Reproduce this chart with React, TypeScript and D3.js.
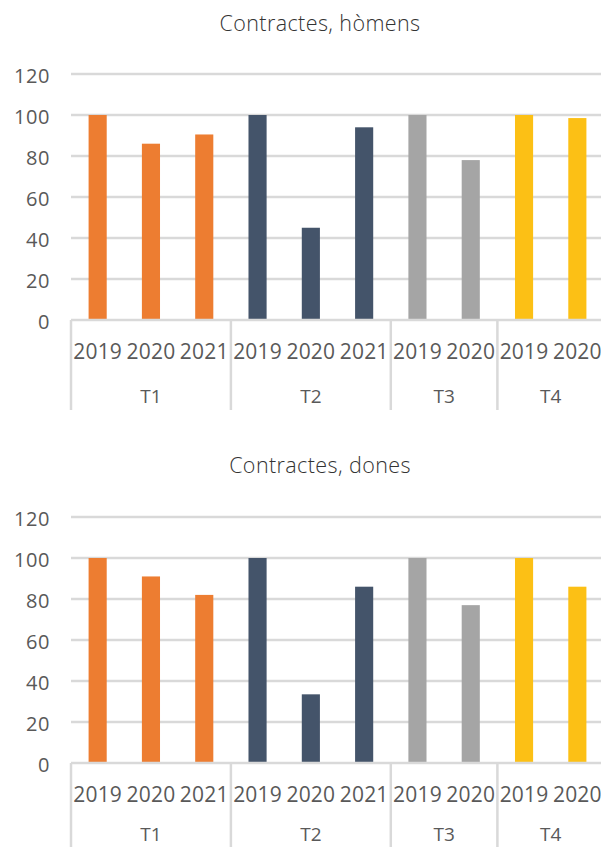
import React from "react";
import * as d3 from "d3";

const quarters = ["T1", "T2", "T3", "T4"];
const quarterOf = ["T1", "T1", "T1", "T2", "T2", "T2", "T3", "T3", "T4", "T4"];
const years = ["2019", "2020", "2021", "2019", "2020", "2021", "2019", "2020", "2019", "2020"];
const homens = [100, 86, 90.5, 100, 45, 94, 100, 78, 100, 98.5];
const dones = [100, 91, 82, 100, 33.5, 86, 100, 77, 100, 86];
const yTicks = [0, 20, 40, 60, 80, 100, 120];
const quarterColors = ["#ED7D31", "#44546A", "#A5A5A5", "#FCC015"];

const W = 601;
const H = 847;
const X0 = 71;
const X1 = 604;
const GRID = "#D9D9D9";
const TXT = "#595959";
const FONT = "'Open Sans', sans-serif";

type ChartProps = {
  title: string;
  values: number[];
  titleY: number;
  yTopPx: number;
  yZeroPx: number;
  quarterLabelOffset: number;
};

function Chart({ title, values, titleY, yTopPx, yZeroPx, quarterLabelOffset }: ChartProps) {
  const idx = values.map((_, i) => String(i));
  const x = d3.scaleBand<string>().domain(idx).range([X0, X1]).padding(0);
  const y = d3.scaleLinear().domain([0, 120]).range([yZeroPx, yTopPx]);
  const color = d3.scaleOrdinal<string, string>().domain(quarters).range(quarterColors);
  const step = x.step();
  const bw = step * 0.34;

  const bounds: number[] = [X0];
  quarters.forEach((q) => {
    const last = quarterOf.lastIndexOf(q);
    bounds.push((x(String(last)) as number) + step);
  });

  return (
    <g>
      <text x={320} y={titleY} textAnchor="middle" fontFamily={FONT} fontWeight={300} fontSize={21.5} fill="#333333" letterSpacing={0.4}>
        {title}
      </text>
      {yTicks.map((t) => (
        <g key={t}>
          {t > 0 && <line x1={X0} x2={W} y1={y(t)} y2={y(t)} stroke={GRID} strokeWidth={2.5} />}
          <text x={50} y={y(t) + 1} textAnchor="end" dominantBaseline="central" fontFamily={FONT} fontSize={20} fill={TXT} letterSpacing={0.6}>
            {t}
          </text>
        </g>
      ))}
      {values.map((v, i) => {
        const cx = (x(String(i)) as number) + step / 2;
        return (
          <rect key={i} x={cx - bw / 2} y={y(v)} width={bw} height={y(0) - y(v)} fill={color(quarterOf[i])} />
        );
      })}
      <line x1={X0} x2={W} y1={y(0)} y2={y(0)} stroke={GRID} strokeWidth={2.5} />
      {bounds.map((b, i) => (
        <line key={i} x1={b} x2={b} y1={y(0)} y2={y(0) + 90} stroke={GRID} strokeWidth={2.5} />
      ))}
      {years.map((yr, i) => {
        const cx = (x(String(i)) as number) + step / 2;
        return (
          <text key={i} x={cx} y={y(0) + 39} textAnchor="middle" fontFamily={FONT} fontSize={21} fill={TXT} letterSpacing={0.2}>
            {yr}
          </text>
        );
      })}
      {quarters.map((q, qi) => {
        const cx = (bounds[qi] + bounds[qi + 1]) / 2;
        return (
          <text key={q} x={cx} y={y(0) + quarterLabelOffset} textAnchor="middle" fontFamily={FONT} fontSize={19} fill={TXT}>
            {q}
          </text>
        );
      })}
    </g>
  );
}

export default function App() {
  return (
    <svg width={W} height={H} style={{ position: "absolute", left: 0, top: 0, background: "#fff" }}>
      <rect width={W} height={H} fill="#fff" />
      <Chart title="Contractes, hòmens" values={homens} titleY={31} yTopPx={74} yZeroPx={320} quarterLabelOffset={83} />
      <Chart title="Contractes, dones" values={dones} titleY={473} yTopPx={517} yZeroPx={763} quarterLabelOffset={78} />
    </svg>
  );
}
